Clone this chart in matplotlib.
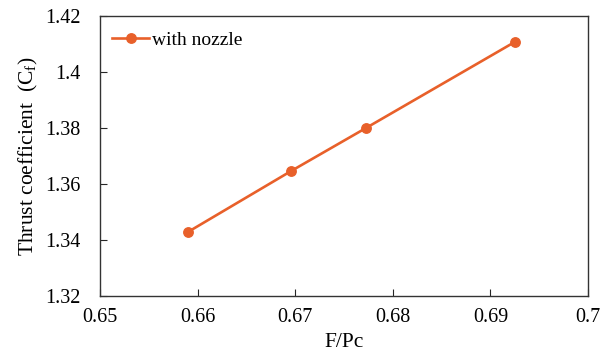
import matplotlib
matplotlib.use("Agg")
import matplotlib.pyplot as plt

# thrust coefficient vs F/Pc
f_pc = [0.6590, 0.6696, 0.6773, 0.6925]
cf = [1.3428, 1.3646, 1.3800, 1.4106]

x_ticks = [0.65, 0.66, 0.67, 0.68, 0.69, 0.70]
x_labels = ["0.65", "0.66", "0.67", "0.68", "0.69", "0.7"]
y_ticks = [1.32, 1.34, 1.36, 1.38, 1.40, 1.42]
y_labels = ["1.32", "1.34", "1.36", "1.38", "1.4", "1.42"]

plt.rcParams["font.family"] = ["Liberation Serif", "DejaVu Serif"]
plt.rcParams["mathtext.fontset"] = "custom"
plt.rcParams["mathtext.rm"] = "Liberation Serif"
plt.rcParams["mathtext.it"] = "Liberation Serif:italic"

orange = "#E8602A"

fig = plt.figure(figsize=(6.1, 3.54), dpi=100)
ax = fig.add_axes([0.164, 0.164, 0.800, 0.792])

ax.plot(f_pc, cf, color=orange, lw=1.9, marker="o", ms=6.8, label="with nozzle")

ax.set_xlim(0.65, 0.70)
ax.set_ylim(1.32, 1.42)
ax.set_xticks(x_ticks)
ax.set_xticklabels(x_labels)
ax.set_yticks(y_ticks)
ax.set_yticklabels(y_labels)
ax.tick_params(direction="in", length=5, width=0.8, labelsize=14.5, colors="#262626",
               labelcolor="black", pad=9)
ax.tick_params(axis="y", pad=14)

for s in ax.spines.values():
    s.set_color("#333333")
    s.set_linewidth(1.0)

ax.set_xlabel("F/Pc", fontsize=15.5, labelpad=4)
ax.set_ylabel(r"Thrust coefficient  (C$_\mathrm{f}$)", fontsize=15.5, labelpad=4)

ax.legend(loc="upper left", frameon=False, fontsize=14, handlelength=1.9,
          handletextpad=0.15, borderaxespad=0.4, bbox_to_anchor=(-0.007, 1.0))

fig.savefig("out.png", dpi=100)
